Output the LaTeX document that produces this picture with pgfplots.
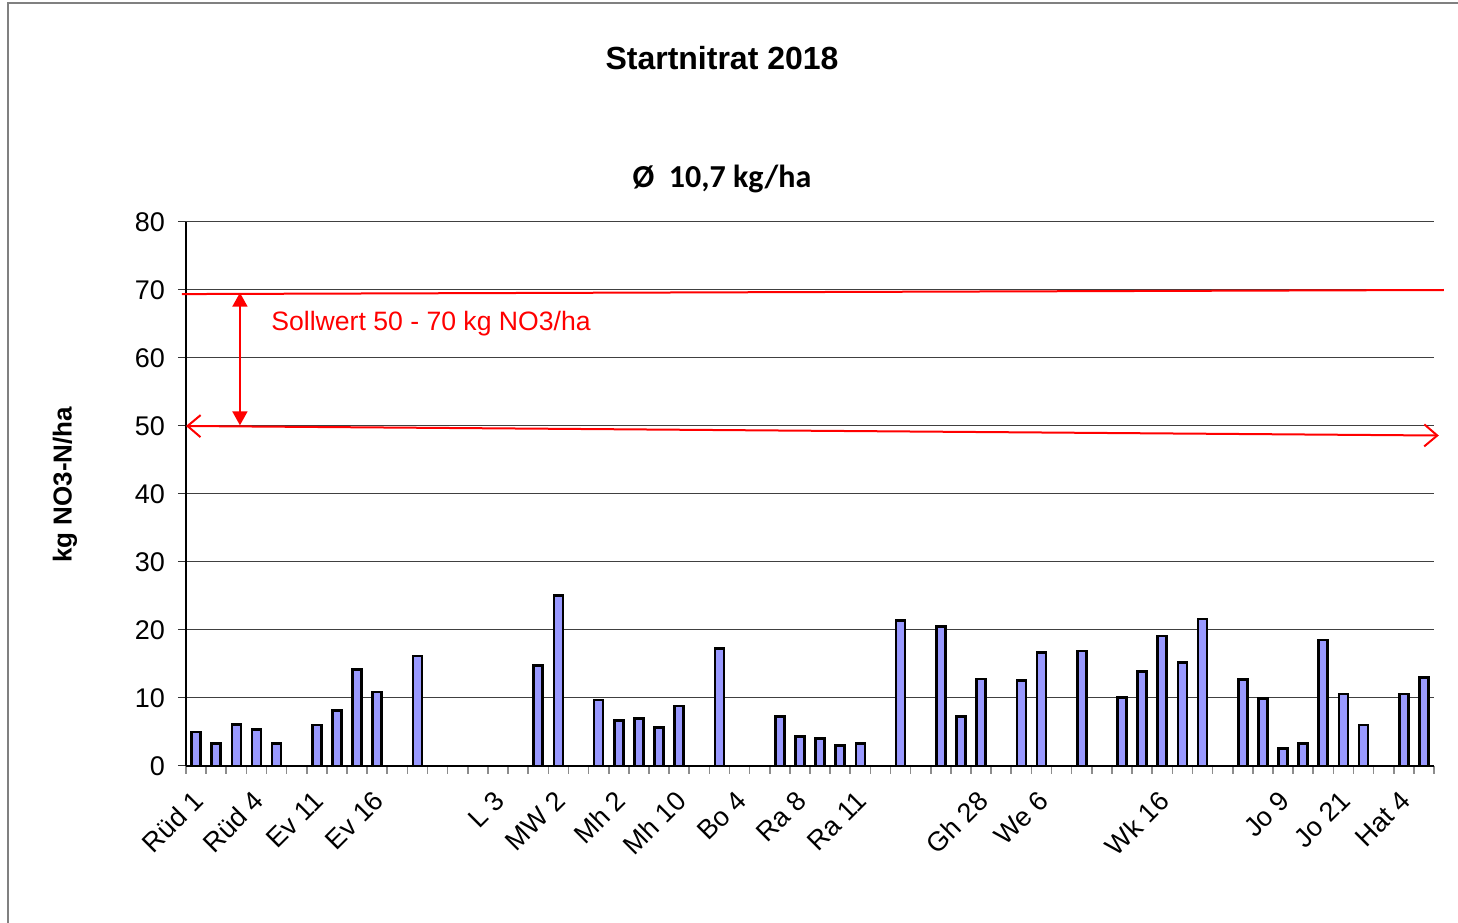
\documentclass[border=0pt]{standalone}
\usepackage{fontspec}
\setmainfont{Liberation Sans}
\newfontfamily\calibri{Carlito}
\usepackage{pgfplots}
\pgfplotsset{compat=1.18}
\usetikzlibrary{arrows.meta}
\definecolor{barfill}{RGB}{153,153,255}
\pgfplotstableread{
x y
1 5.0
2 3.3
3 6.1
4 5.4
5 3.3
7 6.0
8 8.2
9 14.2
10 10.9
12 16.2
18 14.8
19 25.1
21 9.7
22 6.7
23 7.0
24 5.7
25 8.8
27 17.3
30 7.3
31 4.3
32 4.0
33 3.0
34 3.3
36 21.4
38 20.5
39 7.3
40 12.8
42 12.6
43 16.7
45 16.9
47 10.1
48 13.9
49 19.1
50 15.2
51 21.6
53 12.7
54 9.9
55 2.6
56 3.3
57 18.5
58 10.6
59 6.0
61 10.6
62 13.0
}\datatable
\begin{document}
\begin{tikzpicture}
\useasboundingbox (0,0) rectangle (729pt,461pt);
\draw[gray, line width=0.8pt] (4pt,-2pt) -- (4pt,459.5pt) -- (735pt,459.5pt);
\node[font=\bfseries\fontsize{16}{19}\selectfont] at (361pt,432pt) {Startnitrat 2018};
\node[font=\calibri\bfseries\fontsize{16}{19}\selectfont] at (361pt,371.5pt) {Ø\ \ 10,7 kg/ha};
\begin{axis}[
  at={(93pt,78pt)}, anchor=south west,
  scale only axis, width=624pt, height=272pt,
  xmin=0.5, xmax=62.5, ymin=0, ymax=80,
  axis lines=left, axis line style={black, line width=0.6pt, -},
  clip=false,
  ytick={0,10,...,80},
  ymajorgrids, grid style={black!75, line width=0.5pt},
  tick align=outside, major tick length=4pt,
  ytick style={black!80, line width=0.5pt},
  yticklabel style={xshift=-3pt, font=\fontsize{13.5}{15}\selectfont},
  xtick={0.5,1.5,...,62.5}, xticklabels={},
  xtick style={black!45, line width=0.8pt},
  extra x ticks={1,4,...,61},
  extra x tick labels={Rüd 1,Rüd 4,Ev 11,Ev 16,{},L 3,MW 2,Mh 2,Mh 10,Bo 4,Ra 8,Ra 11,{},Gh 28,We 6,{},Wk 16,{},Jo 9,Jo 21,Hat 4},
  extra x tick style={major tick length=0pt, grid=none,
    xticklabel style={xshift=-2.5pt, yshift=-10pt, rotate=45, anchor=north east, inner sep=1pt, font=\fontsize{13.5}{15}\selectfont}},
  /pgf/number format/assume math mode=true,
  ylabel={kg NO3-N/ha},
  ylabel style={at={(axis description cs:-0.097,0.517)}, anchor=center, font=\bfseries\fontsize{13}{15}\selectfont},
]
\addplot[ybar, bar width=4.5pt, fill=barfill, draw=black, line width=1.3pt] table[x=x,y=y] {\datatable};
\draw[red, line width=1pt] (axis cs:0.3,69.4) -- (axis cs:62.99,70.0);
\draw[red, line width=1pt, {Straight Barb[length=6.5pt,width=11pt]}-{Straight Barb[length=6.5pt,width=11pt]}] (axis cs:0.5,50) -- (axis cs:62.74,48.6);
\draw[red, line width=1pt, {Triangle[length=7pt,width=7.5pt]}-{Triangle[length=7pt,width=7.5pt]}] (axis cs:3.18,69.6) -- (axis cs:3.18,50.1);
\node[red, anchor=west, inner sep=0pt, font=\fontsize{13.3}{15}\selectfont] at (axis cs:4.72,65.1) {Sollwert 50 - 70 kg NO3/ha};
\end{axis}
\end{tikzpicture}
\end{document}
